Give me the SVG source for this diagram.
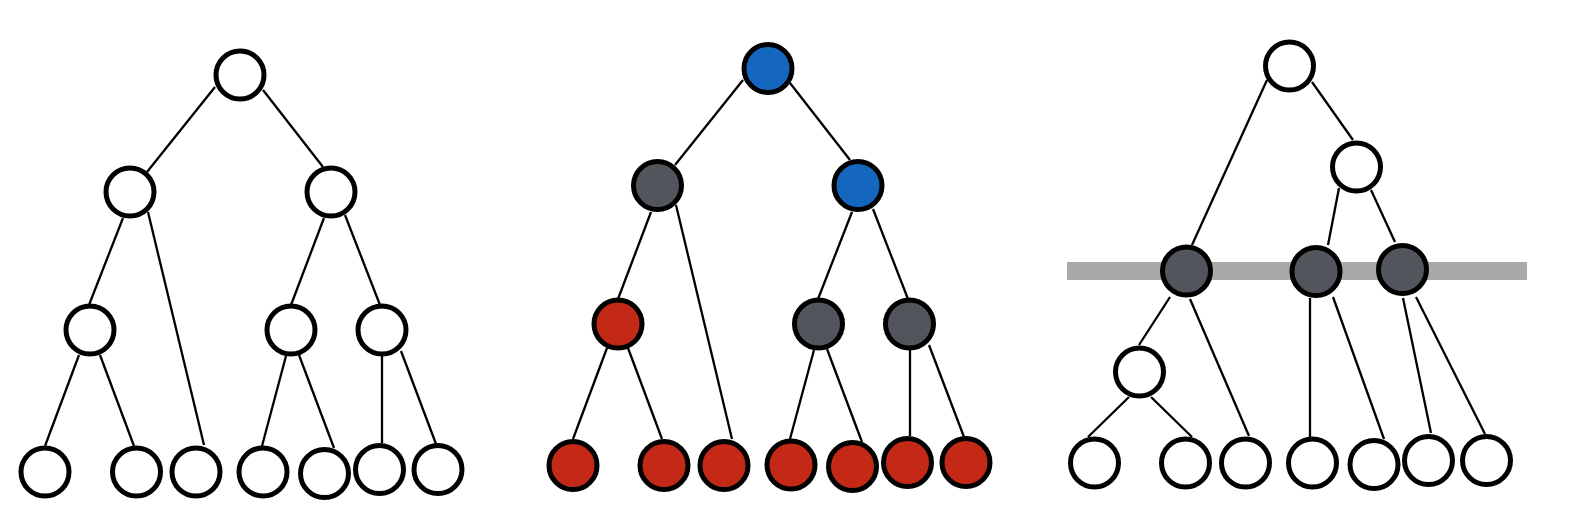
<svg xmlns="http://www.w3.org/2000/svg" width="1576" height="522" viewBox="0 0 1576 522">
  <style>
    .edge { stroke: #000; stroke-width: 2.3; fill: none; stroke-linecap: butt; }
    .node { stroke: #000; stroke-width: 5; }
    .white { fill: #ffffff; }
    .blue { fill: #1466be; }
    .gray { fill: #52565c; }
    .red { fill: #c42918; }
  </style>
  <rect x="0" y="0" width="1576" height="522" fill="#ffffff"/>
  <rect id="cut-bar" x="1067" y="262" width="460" height="18" fill="#a8a9a8"/>
  <g id="connectors">
    <!-- tree 1 -->
    <line class="edge" x1="215" y1="87" x2="147" y2="172"/>
    <line class="edge" x1="263" y1="90" x2="323" y2="167"/>
    <line class="edge" x1="123" y1="218" x2="89" y2="305"/>
    <line class="edge" x1="148" y1="212" x2="204" y2="445"/>
    <line class="edge" x1="79" y1="355" x2="45" y2="446"/>
    <line class="edge" x1="100" y1="355" x2="134" y2="446"/>
    <line class="edge" x1="324" y1="218" x2="291" y2="305"/>
    <line class="edge" x1="345" y1="215" x2="380" y2="305"/>
    <line class="edge" x1="286" y1="356" x2="262" y2="446"/>
    <line class="edge" x1="299" y1="355" x2="334" y2="448"/>
    <line class="edge" x1="382" y1="356" x2="382" y2="443"/>
    <line class="edge" x1="401" y1="351" x2="436" y2="444"/>
    <!-- tree 2 -->
    <line class="edge" x1="743" y1="80" x2="675" y2="165"/>
    <line class="edge" x1="790" y1="83" x2="850" y2="160"/>
    <line class="edge" x1="651" y1="212" x2="618" y2="299"/>
    <line class="edge" x1="676" y1="205" x2="732" y2="439"/>
    <line class="edge" x1="607" y1="348" x2="573" y2="439"/>
    <line class="edge" x1="628" y1="348" x2="662" y2="439"/>
    <line class="edge" x1="852" y1="212" x2="818" y2="299"/>
    <line class="edge" x1="873" y1="209" x2="908" y2="299"/>
    <line class="edge" x1="814" y1="350" x2="790" y2="439"/>
    <line class="edge" x1="827" y1="349" x2="862" y2="442"/>
    <line class="edge" x1="910" y1="350" x2="910" y2="436"/>
    <line class="edge" x1="929" y1="345" x2="964" y2="437"/>
    <!-- tree 3 -->
    <line class="edge" x1="1267" y1="80" x2="1192" y2="245"/>
    <line class="edge" x1="1312" y1="82" x2="1353" y2="140"/>
    <line class="edge" x1="1339" y1="188" x2="1328" y2="245"/>
    <line class="edge" x1="1371" y1="190" x2="1395" y2="242"/>
    <line class="edge" x1="1170" y1="297" x2="1139" y2="345"/>
    <line class="edge" x1="1190" y1="299" x2="1249" y2="436"/>
    <line class="edge" x1="1129" y1="397" x2="1088" y2="437"/>
    <line class="edge" x1="1151" y1="397" x2="1192" y2="437"/>
    <line class="edge" x1="1310" y1="298" x2="1310" y2="437"/>
    <line class="edge" x1="1333" y1="297" x2="1384" y2="439"/>
    <line class="edge" x1="1403" y1="298" x2="1431" y2="433"/>
    <line class="edge" x1="1416" y1="297" x2="1485" y2="434"/>
  </g>
  <!-- tree 1 nodes -->
  <g id="t1-root"><circle class="node white" cx="240" cy="75" r="24"/></g>
  <g id="t1-a"><circle class="node white" cx="130" cy="192" r="24"/></g>
  <g id="t1-b"><circle class="node white" cx="331" cy="192" r="24"/></g>
  <g id="t1-c"><circle class="node white" cx="90" cy="330" r="24"/></g>
  <g id="t1-d"><circle class="node white" cx="291" cy="330" r="24"/></g>
  <g id="t1-e"><circle class="node white" cx="382" cy="330" r="24"/></g>
  <g id="t1-l1"><circle class="node white" cx="45" cy="472" r="24"/></g>
  <g id="t1-l2"><circle class="node white" cx="136.5" cy="472" r="24"/></g>
  <g id="t1-l3"><circle class="node white" cx="196" cy="472" r="24"/></g>
  <g id="t1-l4"><circle class="node white" cx="263" cy="472" r="24"/></g>
  <g id="t1-l5"><circle class="node white" cx="324.5" cy="473.5" r="24"/></g>
  <g id="t1-l6"><circle class="node white" cx="379.5" cy="469.5" r="24"/></g>
  <g id="t1-l7"><circle class="node white" cx="438" cy="469.5" r="24"/></g>
  <!-- tree 2 nodes -->
  <g id="t2-root"><circle class="node blue" cx="768" cy="68.5" r="24"/></g>
  <g id="t2-a"><circle class="node gray" cx="657.5" cy="185.5" r="24"/></g>
  <g id="t2-b"><circle class="node blue" cx="858" cy="185.5" r="24"/></g>
  <g id="t2-c"><circle class="node red" cx="618" cy="324" r="24"/></g>
  <g id="t2-d"><circle class="node gray" cx="818.5" cy="324" r="24"/></g>
  <g id="t2-e"><circle class="node gray" cx="909.5" cy="324" r="24"/></g>
  <g id="t2-l1"><circle class="node red" cx="573" cy="465.5" r="24"/></g>
  <g id="t2-l2"><circle class="node red" cx="664" cy="465.5" r="24"/></g>
  <g id="t2-l3"><circle class="node red" cx="724" cy="465.5" r="24"/></g>
  <g id="t2-l4"><circle class="node red" cx="791" cy="465" r="24"/></g>
  <g id="t2-l5"><circle class="node red" cx="852.5" cy="466.5" r="24"/></g>
  <g id="t2-l6"><circle class="node red" cx="907.5" cy="462.5" r="24"/></g>
  <g id="t2-l7"><circle class="node red" cx="966" cy="462.5" r="24"/></g>
  <!-- tree 3 nodes -->
  <g id="t3-root"><circle class="node white" cx="1289.5" cy="66" r="24"/></g>
  <g id="t3-a"><circle class="node white" cx="1356.5" cy="167" r="24"/></g>
  <g id="t3-b"><circle class="node gray" cx="1186.5" cy="271" r="24"/></g>
  <g id="t3-c"><circle class="node gray" cx="1316" cy="271.5" r="24"/></g>
  <g id="t3-d"><circle class="node gray" cx="1402.5" cy="269.5" r="24"/></g>
  <g id="t3-e"><circle class="node white" cx="1139.5" cy="372" r="24"/></g>
  <g id="t3-l1"><circle class="node white" cx="1094.5" cy="463" r="24"/></g>
  <g id="t3-l2"><circle class="node white" cx="1185.5" cy="463" r="24"/></g>
  <g id="t3-l3"><circle class="node white" cx="1245.5" cy="463" r="24"/></g>
  <g id="t3-l4"><circle class="node white" cx="1312.5" cy="463" r="24"/></g>
  <g id="t3-l5"><circle class="node white" cx="1374" cy="464.5" r="24"/></g>
  <g id="t3-l6"><circle class="node white" cx="1428.5" cy="460.5" r="24"/></g>
  <g id="t3-l7"><circle class="node white" cx="1486.5" cy="460.5" r="24"/></g>
</svg>
